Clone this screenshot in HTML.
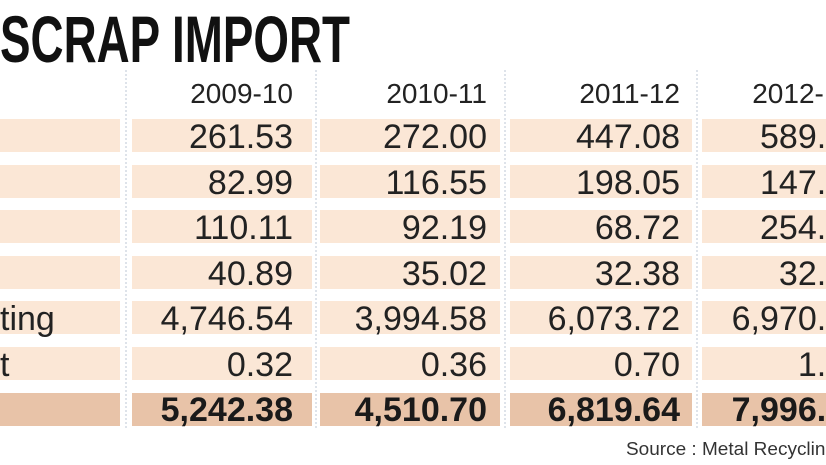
<!DOCTYPE html>
<html><head><meta charset="utf-8"><style>
html,body{margin:0;padding:0;background:#fff;width:826px;height:465px;overflow:hidden}
svg{display:block;font-family:"Liberation Sans",sans-serif}
</style></head><body>
<svg width="826" height="465" viewBox="0 0 826 465">
<text x="0" y="62" font-size="66" font-weight="bold" fill="#111" textLength="350" lengthAdjust="spacingAndGlyphs">SCRAP IMPORT</text>
<g fill="#fbe7d6">
<rect x="0" y="119" width="120" height="33"/><rect x="132" y="119" width="180" height="33"/><rect x="320" y="119" width="180" height="33"/><rect x="510" y="119" width="182" height="33"/><rect x="702" y="119" width="124" height="33"/>
<rect x="0" y="165" width="120" height="33"/><rect x="132" y="165" width="180" height="33"/><rect x="320" y="165" width="180" height="33"/><rect x="510" y="165" width="182" height="33"/><rect x="702" y="165" width="124" height="33"/>
<rect x="0" y="210" width="120" height="33"/><rect x="132" y="210" width="180" height="33"/><rect x="320" y="210" width="180" height="33"/><rect x="510" y="210" width="182" height="33"/><rect x="702" y="210" width="124" height="33"/>
<rect x="0" y="256" width="120" height="33"/><rect x="132" y="256" width="180" height="33"/><rect x="320" y="256" width="180" height="33"/><rect x="510" y="256" width="182" height="33"/><rect x="702" y="256" width="124" height="33"/>
<rect x="0" y="301" width="120" height="33"/><rect x="132" y="301" width="180" height="33"/><rect x="320" y="301" width="180" height="33"/><rect x="510" y="301" width="182" height="33"/><rect x="702" y="301" width="124" height="33"/>
<rect x="0" y="347" width="120" height="33"/><rect x="132" y="347" width="180" height="33"/><rect x="320" y="347" width="180" height="33"/><rect x="510" y="347" width="182" height="33"/><rect x="702" y="347" width="124" height="33"/>
</g>
<g fill="#e8c3a8">
<rect x="0" y="393" width="120" height="33"/><rect x="132" y="393" width="180" height="33"/><rect x="320" y="393" width="180" height="33"/><rect x="510" y="393" width="182" height="33"/><rect x="702" y="393" width="124" height="33"/>
</g>
<g stroke="#c9d0dc" stroke-width="1.2" stroke-dasharray="2,2">
<line x1="126" y1="70" x2="126" y2="428"/><line x1="316" y1="70" x2="316" y2="428"/><line x1="505" y1="70" x2="505" y2="428"/><line x1="697" y1="70" x2="697" y2="428"/>
</g>
<g font-size="28" fill="#222" text-anchor="end">
<text x="293" y="103">2009-10</text><text x="487" y="103">2010-11</text><text x="680" y="103">2011-12</text><text x="855" y="103">2012-13</text>
</g>
<g font-size="34" fill="#222" text-anchor="end">
<text x="293" y="148">261.53</text><text x="487" y="148">272.00</text><text x="680" y="148">447.08</text><text x="864" y="148">589.00</text>
<text x="293" y="194">82.99</text><text x="487" y="194">116.55</text><text x="680" y="194">198.05</text><text x="864" y="194">147.00</text>
<text x="293" y="239">110.11</text><text x="487" y="239">92.19</text><text x="680" y="239">68.72</text><text x="864" y="239">254.00</text>
<text x="293" y="285">40.89</text><text x="487" y="285">35.02</text><text x="680" y="285">32.38</text><text x="864" y="285">32.00</text>
<text x="293" y="330">4,746.54</text><text x="487" y="330">3,994.58</text><text x="680" y="330">6,073.72</text><text x="864" y="330">6,970.00</text>
<text x="293" y="376">0.32</text><text x="487" y="376">0.36</text><text x="680" y="376">0.70</text><text x="864" y="376">1.00</text>
</g>
<g font-size="34" font-weight="bold" fill="#1a1a1a" text-anchor="end">
<text x="293" y="421">5,242.38</text><text x="487" y="421">4,510.70</text><text x="680" y="421">6,819.64</text><text x="864" y="421">7,996.00</text>
</g>
<text x="0" y="330" font-size="34" fill="#222">ting</text>
<text x="0" y="376" font-size="34" fill="#222">t</text>
<text x="626" y="455" font-size="18" fill="#333" textLength="210" lengthAdjust="spacingAndGlyphs">Source : Metal Recycling</text>
</svg>
</body></html>
